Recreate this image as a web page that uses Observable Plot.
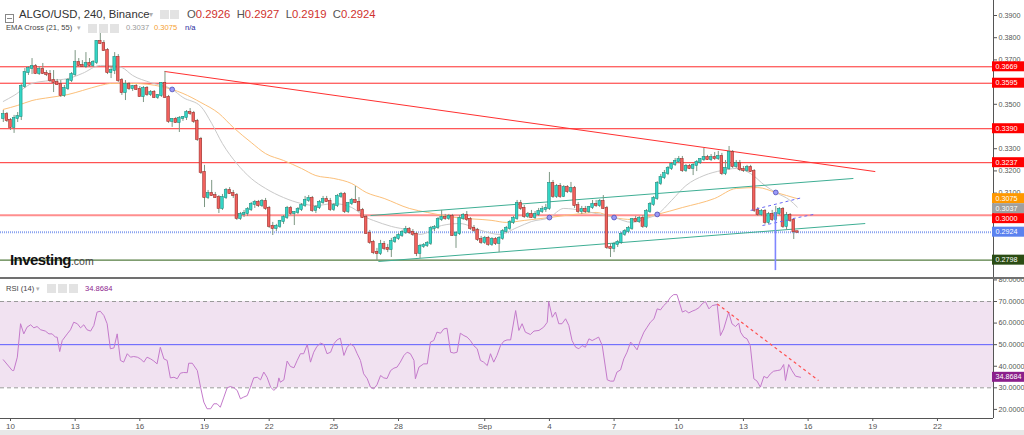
<!DOCTYPE html>
<html><head><meta charset="utf-8">
<script src="https://cdn.jsdelivr.net/npm/d3@7"></script>
<script src="https://cdn.jsdelivr.net/npm/@observablehq/plot@0.6"></script>
<style>
html,body{margin:0;padding:0;background:#fff}
#wrap{position:relative;width:1024px;height:435px;overflow:hidden;font-family:"Liberation Sans",Arial,Helvetica,sans-serif}
#price,#rsi{position:absolute;left:0}
#price{top:0;height:277px}
#rsi{top:279px;height:156px}
#price svg,#rsi svg{display:block;overflow:hidden}
.sep{position:absolute;left:0;top:277px;width:1024px;height:2px;background:#707070}
.band{position:absolute;left:0;top:430px;width:1024px;height:5px;background:#e8e8e8}
.lg{position:absolute;white-space:nowrap;line-height:1}
.ic{position:absolute;width:9px;height:9px;background:#e3e3e3}
</style></head><body>
<div id="wrap">
  <div id="price"></div>
  <div class="sep"></div>
  <div id="rsi"></div>
  <div class="band"></div>
</div>
<script>
// ---------- DATA ----------
const symbolTitle = "ALGO/USD, 240, Binance";
const emaTitle = "EMA Cross (21, 55)";
const rsiTitle = "RSI (14)";

// 4h candles, index 0 = Aug 9 16:00 (UTC)
const candleOpen = [
.3436,.3454,.3427,.3396,.3436,.3445,.3580,.3643,.3661,.3670,
.3639,.3657,.3639,.3634,.3607,.3598,.3589,.3540,.3571,.3607,
.3634,.3688,.3675,.3670,.3684,.3675,.3688,.3783,.3774,.3742,
.3643,.3652,.3711,.3607,.3553,.3589,.3571,.3580,.3567,.3535,
.3571,.3544,.3553,.3531,.3540,.3594,.3531,.3423,.3432,.3418,
.3436,.3441,.3463,.3459,.3423,.3342,.3193,.3080,.3098,.3089,
.3080,.3031,.3080,.3112,.3098,.3089,.2986,.3004,.3008,.3026,
.3049,.3058,.3044,.3062,.3031,.2950,.2941,.2950,.2972,.2990,
.3031,.3008,.3013,.3026,.3044,.3067,.3076,.3022,.3035,.3058,
.3071,.3062,.3026,.3044,.3085,.3094,.3017,.3053,.3067,.3058,
.3022,.2990,.2918,.2878,.2832,.2828,.2869,.2851,.2846,.2882,
.2896,.2909,.2923,.2936,.2923,.2914,.2828,.2860,.2864,.2873,
.2941,.2945,.2981,.2990,.2986,.2995,.2909,.2918,.2986,.2999,
.2981,.2941,.2932,.2891,.2878,.2896,.2869,.2891,.2873,.2896,
.2927,.2941,.2968,.2986,.3053,.3031,.2995,.3004,.2990,.3004,
.3017,.3026,.3031,.3143,.3085,.3130,.3085,.3125,.3107,.3121,
.3044,.3017,.3026,.3017,.3035,.3049,.3044,.3062,.3031,.2855,
.2851,.2869,.2878,.2914,.2927,.2941,.2981,.2972,.2986,.2950,
.3017,.3049,.3076,.3143,.3170,.3188,.3211,.3229,.3242,.3251,
.3202,.3220,.3211,.3225,.3238,.3251,.3260,.3251,.3260,.3256,
.3265,.3188,.3211,.3283,.3220,.3233,.3206,.3202,.3215,.3197,
.3022,.3004,.3017,.2968,.3004,.2981,.3008,.3026,.2950,.2999,
.2977,.2926];
const candleHigh = [
.3472,.3463,.3436,.3450,.3463,.3589,.3661,.3670,.3706,.3679,
.3670,.3684,.3652,.3652,.3652,.3612,.3607,.3585,.3616,.3643,
.3742,.3706,.3697,.3733,.3706,.3697,.3787,.3832,.3787,.3751,
.3670,.3733,.3724,.3616,.3607,.3598,.3585,.3589,.3580,.3580,
.3580,.3562,.3562,.3544,.3598,.3648,.3540,.3436,.3441,.3445,
.3445,.3472,.3481,.3468,.3432,.3351,.3225,.3112,.3157,.3103,
.3089,.3094,.3121,.3125,.3112,.3098,.3013,.3022,.3035,.3058,
.3067,.3067,.3071,.3076,.3040,.2968,.2959,.2977,.2999,.3040,
.3040,.3017,.3035,.3053,.3085,.3089,.3085,.3044,.3067,.3085,
.3085,.3076,.3053,.3094,.3103,.3103,.3058,.3076,.3130,.3080,
.3031,.2999,.2932,.2887,.2851,.2887,.2882,.2869,.2896,.2905,
.2918,.2932,.2950,.2945,.2936,.2923,.2869,.2873,.2882,.2950,
.2954,.2990,.3022,.3004,.3004,.3004,.2927,.2999,.3008,.3017,
.2990,.2954,.2941,.2905,.2905,.2905,.2900,.2900,.2905,.2936,
.2950,.2977,.2995,.3067,.3067,.3044,.3013,.3022,.3017,.3031,
.3040,.3049,.3193,.3157,.3139,.3143,.3134,.3134,.3148,.3130,
.3058,.3040,.3040,.3040,.3067,.3067,.3071,.3089,.3040,.2873,
.2878,.2887,.2923,.2936,.2950,.2986,.2995,.2995,.2999,.3026,
.3058,.3085,.3152,.3184,.3202,.3220,.3238,.3256,.3265,.3265,
.3229,.3229,.3233,.3247,.3256,.3301,.3270,.3274,.3283,.3288,
.3279,.3247,.3310,.3292,.3247,.3247,.3220,.3225,.3225,.3206,
.3035,.3026,.3026,.3013,.3022,.3040,.3035,.3035,.3013,.3008,
.2986,.2927];
const candleLow = [
.3418,.3418,.3382,.3369,.3418,.3427,.3571,.3630,.3634,.3634,
.3630,.3634,.3625,.3598,.3553,.3585,.3531,.3531,.3562,.3598,
.3625,.3670,.3666,.3661,.3666,.3666,.3679,.3769,.3738,.3634,
.3616,.3634,.3598,.3540,.3517,.3562,.3558,.3562,.3531,.3508,
.3535,.3535,.3526,.3522,.3531,.3526,.3414,.3396,.3414,.3373,
.3423,.3427,.3450,.3414,.3333,.3184,.3035,.3071,.3085,.3076,
.3008,.3022,.3071,.3094,.3076,.2977,.2977,.2990,.2995,.3017,
.3031,.3035,.3035,.3022,.2941,.2909,.2927,.2941,.2959,.2981,
.2999,.2954,.3004,.3017,.3035,.3058,.3013,.3008,.3026,.3049,
.3058,.3017,.3017,.3035,.3076,.3008,.3008,.3044,.3053,.3013,
.2986,.2914,.2869,.2823,.2796,.2819,.2841,.2832,.2810,.2873,
.2887,.2900,.2914,.2914,.2905,.2814,.2805,.2851,.2855,.2864,
.2927,.2936,.2972,.2977,.2977,.2905,.2851,.2909,.2977,.2972,
.2932,.2923,.2882,.2869,.2869,.2860,.2860,.2864,.2832,.2887,
.2918,.2932,.2959,.2977,.3022,.2986,.2986,.2986,.2981,.2995,
.3008,.3013,.3022,.3076,.3076,.3076,.3080,.3098,.3098,.3031,
.3008,.3004,.3008,.3008,.3026,.3035,.3035,.3026,.2846,.2810,
.2832,.2855,.2869,.2905,.2918,.2932,.2968,.2963,.2941,.2941,
.3008,.3040,.3067,.3134,.3161,.3179,.3202,.3220,.3233,.3193,
.3193,.3206,.3179,.3197,.3229,.3242,.3247,.3242,.3247,.3247,
.3179,.3179,.3202,.3211,.3211,.3197,.3193,.3193,.3193,.3013,
.2995,.2995,.2959,.2959,.2972,.2972,.2999,.2941,.2932,.2968,
.2891,.2919];
const candleClose = [
.3454,.3427,.3396,.3436,.3445,.3580,.3643,.3661,.3670,.3639,
.3657,.3639,.3634,.3607,.3598,.3589,.3540,.3571,.3607,.3634,
.3688,.3675,.3670,.3684,.3675,.3688,.3783,.3774,.3742,.3643,
.3652,.3711,.3607,.3553,.3589,.3571,.3580,.3567,.3535,.3571,
.3544,.3553,.3531,.3540,.3594,.3531,.3423,.3432,.3418,.3436,
.3441,.3463,.3459,.3423,.3342,.3193,.3080,.3098,.3089,.3080,
.3031,.3080,.3112,.3098,.3089,.2986,.3004,.3008,.3026,.3049,
.3058,.3044,.3062,.3031,.2950,.2941,.2950,.2972,.2990,.3031,
.3008,.3013,.3026,.3044,.3067,.3076,.3022,.3035,.3058,.3071,
.3062,.3026,.3044,.3085,.3094,.3017,.3053,.3067,.3058,.3022,
.2990,.2918,.2878,.2832,.2828,.2869,.2851,.2846,.2882,.2896,
.2909,.2923,.2936,.2923,.2914,.2828,.2860,.2864,.2873,.2941,
.2945,.2981,.2990,.2986,.2995,.2909,.2918,.2986,.2999,.2981,
.2941,.2932,.2891,.2878,.2896,.2869,.2891,.2873,.2896,.2927,
.2941,.2968,.2986,.3053,.3031,.2995,.3004,.2990,.3004,.3017,
.3026,.3031,.3143,.3085,.3130,.3085,.3125,.3107,.3121,.3044,
.3017,.3026,.3017,.3035,.3049,.3044,.3062,.3031,.2855,.2851,
.2869,.2878,.2914,.2927,.2941,.2981,.2972,.2986,.2950,.3017,
.3049,.3076,.3143,.3170,.3188,.3211,.3229,.3242,.3251,.3202,
.3220,.3211,.3225,.3238,.3251,.3260,.3251,.3260,.3256,.3265,
.3188,.3211,.3283,.3220,.3233,.3206,.3202,.3215,.3197,.3022,
.3004,.3017,.2968,.3004,.2981,.3008,.3026,.2950,.2999,.2977,
.2926,.2924];

// EMA 21 (grey) and EMA 55 (orange), read at candle indices
const ema21Idx = [0,3,8,13,18,22,27,30,33,36,41,47,50,55,58,61,65,69,73,78,83,87,92,97,101,103,108,113,116,122,127,133,138,143,147,152,156,161,165,170,175,179,182,186,190,195,200,204,208,212,215,219,221];
const ema21Val = [.3513,.3540,.3594,.3607,.3616,.3639,.3675,.3675,.3666,.3630,.3598,.3567,.3531,.3490,.3414,.3323,.3233,.3166,.3121,.3080,.3053,.3044,.3053,.3035,.2990,.2977,.2950,.2932,.2914,.2954,.2963,.2932,.2914,.2945,.2972,.2990,.3031,.3022,.3008,.2990,.2968,.2986,.3004,.3067,.3134,.3179,.3202,.3211,.3188,.3134,.3103,.3067,.3037];
const ema55Idx = [0,4,8,13,18,22,27,30,36,44,47,50,55,60,64,69,73,78,83,87,92,97,101,106,113,118,126,136,140,145,152,161,165,170,175,182,189,198,204,210,215,221];
const ema55Val = [.3477,.3495,.3517,.3531,.3544,.3562,.3585,.3594,.3594,.3580,.3567,.3549,.3508,.3459,.3396,.3328,.3278,.3247,.3211,.3179,.3166,.3143,.3103,.3076,.3031,.3013,.2990,.2977,.2968,.2977,.2990,.3008,.3013,.2990,.2981,.3004,.3035,.3076,.3121,.3125,.3103,.3075];
const crossIdx = [47,152,170,182,215];
const crossVal = [.3567,.2990,.2990,.3004,.3103];

// Horizontal levels and drawings
const resistanceLevels = [0.3669, 0.3595, 0.3390, 0.3237];
const pivotLevel = 0.3000;
const supportLevel = 0.2798;
const trendIdx = [44.9, 242.7],   trendPrice = [0.3648, 0.3197];
const chanUpIdx = [102.2, 236.6], chanUpPrice = [0.2999, 0.3166];
const chanLoIdx = [104.4, 239.9], chanLoPrice = [0.2792, 0.2963];
const flagIdx1 = [208.0, 222.4],  flagPrice1 = [0.3022, 0.3080];
const flagIdx2 = [211.3, 218.5],  flagPrice2 = [0.2954, 0.2979];
const flagIdx3 = [219.7, 226.1],  flagPrice3 = [0.2985, 0.3006];
const markIdx = 214.9, markPrice = [0.3013, 0.2751];

// RSI(14)
const rsiPos = [0,2.5,2.9,3.9,4.8,5.7,6.6,7.6,8.5,9.4,10.4,11.7,12.7,13.6,14.5,15.0,15.7,16.4,17.8,18.7,19.6,20.6,21.5,22.4,23.3,24.3,25.2,26.1,27.0,28.0,28.9,29.8,30.8,31.7,32.6,33.5,34.5,35.4,36.3,37.3,38.2,39.1,40.0,41.0,41.9,42.8,43.7,44.7,45.6,46.5,47.5,48.4,49.3,50.2,51.2,51.6,52.6,54.0,54.9,55.8,56.7,57.7,58.6,59.5,60.4,61.4,62.3,63.2,64.2,65.1,66.0,66.9,67.9,68.8,69.7,70.7,71.6,72.5,73.4,74.4,75.3,76.2,76.7,77.1,78.1,79.0,79.9,80.9,81.8,82.7,83.6,84.6,85.5,86.4,87.3,88.3,89.2,90.1,91.1,92.0,92.9,93.8,94.8,95.7,96.6,97.6,98.5,99.4,100.3,101.3,102.2,103.1,104.0,105.0,105.9,106.8,107.8,108.7,109.6,110.5,111.5,112.4,113.3,114.3,114.7,115.7,117.0,118.0,118.9,119.8,120.7,121.7,122.6,123.5,124.5,125.4,126.3,127.2,128.2,129.1,130.0,130.9,131.9,132.8,133.7,134.7,135.6,136.5,137.4,138.4,
139.3,140.2,141.2,142.6,143.5,144.4,145.3,146.7,147.7,149.1,150.4,151.4,151.8,152.8,153.7,154.6,155.5,156.5,157.4,158.3,159.3,160.2,161.1,162.0,163.0,163.9,164.8,165.7,166.7,168.1,169.0,169.9,170.8,171.8,172.7,173.6,174.6,175.5,176.4,177.3,178.3,179.2,180.1,181.1,182.0,182.9,183.8,184.8,185.7,186.6,187.5,189.0,189.9,190.8,191.7,192.6,193.6,194.5,195.4,196.4,197.3,198.7,199.6,200.5,201.9,202.8,203.8,204.7,205.2,206.1,207.0,207.9,208.9,209.8,210.7,211.7,212.6,213.5,214.4,215.4,216.3,217.2,217.7,218.6,219.5,220.5,221.9];
const rsiVal = [43.0,38.0,38.0,44.2,59.7,55.0,58.1,59.2,57.8,58.4,56.9,56.3,55.0,55.0,53.5,53.5,46.8,51.9,55.0,56.9,60.4,59.7,57.8,59.2,56.9,56.3,58.9,65.1,65.5,63.5,59.7,48.1,48.5,55.0,42.7,41.9,45.8,44.2,44.5,44.2,43.4,41.9,44.2,43.4,42.4,41.1,48.8,43.4,42.7,34.6,34.9,34.2,36.8,37.1,37.0,41.4,41.4,38.0,30.3,23.4,20.3,20.3,22.6,22.6,21.0,25.7,30.0,30.6,30.0,28.8,24.9,25.7,26.4,30.3,34.6,34.9,33.7,37.3,34.9,30.3,28.8,30.3,34.6,32.6,33.7,42.4,39.9,39.3,42.7,45.8,45.8,50.1,41.9,46.5,49.2,50.7,50.1,45.8,46.5,50.4,52.2,53.0,45.0,48.8,50.4,49.2,45.8,42.7,36.5,34.2,30.3,29.5,31.4,35.7,34.6,34.3,38.0,39.1,39.6,41.9,45.0,46.5,45.8,42.7,34.2,39.6,41.1,41.1,51.2,51.9,55.8,55.3,57.3,57.6,46.5,46.1,46.5,55.3,54.2,53.5,51.9,49.6,48.1,42.7,41.9,40.3,45.8,41.9,45.0,49.6,
51.6,52.2,52.2,65.8,56.6,59.7,55.8,54.7,56.3,56.6,58.1,60.4,70.0,62.7,65.1,59.7,59.7,62.0,58.9,51.9,48.8,48.1,49.6,48.8,52.7,51.9,52.7,53.5,49.6,33.7,33.1,33.1,37.3,38.3,43.4,46.5,51.2,49.6,47.6,51.9,55.8,58.1,60.4,62.0,66.6,66.1,68.1,69.7,72.0,73.2,73.2,65.1,65.8,64.7,65.5,66.1,67.1,68.9,70.0,66.6,68.1,68.6,54.2,57.3,65.1,59.7,58.4,60.0,55.8,53.5,52.7,49.6,34.2,33.1,30.3,35.3,34.5,36.5,37.7,38.0,38.3,40.8,33.4,40.8,38.0,35.4,34.8684];
const rsiBand = [30, 70];
const rsiMid = 50;
const rsiTrendPos = [198.7, 226.9], rsiTrendVal = [68.9, 33.4];

// Axis ticks
const timeTickPos = [2,20,38,56,74,92,110,134,152,170,188,206,224,242,260];
const timeTickLabels = ["10","13","16","19","22","25","28","Sep","4","7","10","13","16","19","22"];
const priceTicks = [0.28,0.29,0.30,0.31,0.32,0.33,0.34,0.35,0.36,0.37,0.38,0.39];
const rsiTicks = [20,30,40,50,60,70,80];

// Price tags on the right axis
const tagValues = [0.3669,0.3595,0.3390,0.3237,0.3075,0.3037,0.3000,0.2924,0.2798];
const tagColors = ["#ff0000","#ff0000","#ff0000","#ff0000","#ff9800","#a0a0a0","#ff0000","#5b82ef","#2b4d14"];

// ---------- LAYOUT / STYLE ----------
const W = 1024, MR = 31;
const xDomain = [-0.78, 275.6];
const priceDomain = [0.27199, 0.39676];
const rsiDomain = [15.78, 80.2];
const PRICE_H = 277, RSI_H = 156, RSI_MB = 17;
const FONT = '"Liberation Sans", Arial, sans-serif';
const UP_FILL = "#33d6c6", UP_STROKE = "#1f8e80";
const DN_FILL = "#f2615d", DN_STROKE = "#9c2f2c";
const WICK = "#7d9783";

// ---------- BUILD ----------
const N = Math.min(candleOpen.length, candleHigh.length, candleLow.length, candleClose.length);
const candles = d3.range(N).map(i => ({i, o: candleOpen[i], h: candleHigh[i], l: candleLow[i], c: candleClose[i]}));
const ups = candles.filter(d => d.c >= d.o), downs = candles.filter(d => d.c < d.o);
const ema21 = ema21Idx.map((i, k) => ({i, v: ema21Val[k]}));
const ema55 = ema55Idx.map((i, k) => ({i, v: ema55Val[k]}));
const crosses = crossIdx.map((i, k) => ({i, v: crossVal[k]}));
const seg = (xs, ys) => [{x1: xs[0], x2: xs[1], y1: ys[0], y2: ys[1]}];
const rsiN = Math.min(rsiPos.length, rsiVal.length);
const rsi = d3.range(rsiN).map(k => ({p: rsiPos[k], v: rsiVal[k]}));

// stacked tag positions (the chart pushes overlapping tags down)
function stackTags(scale, values, colors) {
  const items = values.map((v, k) => ({v, c: colors[k], y: scale.apply(v)})).sort((a, b) => a.y - b.y);
  let prev = -1e9;
  for (const it of items) { if (it.y < prev + 10) it.y = prev + 10; prev = it.y; }
  return items;
}
const priceScale = Plot.scale({y: {domain: priceDomain, range: [PRICE_H, 0]}});
const rsiScale = Plot.scale({y: {domain: rsiDomain, range: [RSI_H - RSI_MB, 0]}});
const priceTags = stackTags(priceScale, tagValues, tagColors);
const rsiTags = stackTags(rsiScale, [rsiVal[rsiN - 1]], ["#8b1f8b"]);
// tick labels fully hidden behind a tag are not drawn
const visibleTicks = (ticks, scale, tags) => ticks.filter(t => tags.every(g => Math.abs(scale.apply(t) - g.y) > 5.5));

const body = (data, fill, stroke) => Plot.rect(data, {
  x1: d => d.i - 0.36, x2: d => d.i + 0.36,
  y1: d => Math.min(d.o, d.c), y2: d => Math.max(d.o, d.c),
  fill, stroke, strokeWidth: 0.6, insetTop: -0.5, insetBottom: -0.5
});
const linkMark = (xs, ys, opts) => Plot.link(seg(xs, ys), {x1: "x1", x2: "x2", y1: "y1", y2: "y2", ...opts});

const priceFig = Plot.plot({
  width: W, height: PRICE_H, marginLeft: 0, marginRight: MR, marginTop: 0, marginBottom: 0,
  style: {fontFamily: FONT, fontSize: "7.2px", color: "#555", background: "transparent"},
  x: {domain: xDomain, axis: null},
  y: {domain: priceDomain, axis: "right", ticks: visibleTicks(priceTicks, priceScale, priceTags), tickFormat: d => d.toFixed(4), tickSize: 3, tickPadding: 2, label: null},
  marks: [
    Plot.ruleY(resistanceLevels, {stroke: "#ff2a2a", strokeWidth: 1}),
    Plot.ruleY([pivotLevel], {stroke: "#ff7a7a", strokeWidth: 2, strokeOpacity: 0.85}),
    Plot.ruleY([supportLevel], {stroke: "#557d40", strokeWidth: 1.2}),
    Plot.ruleY([candleClose[N - 1]], {stroke: "#8aa3f0", strokeWidth: 2, strokeDasharray: "1,1"}),
    Plot.line(ema55, {x: "i", y: "v", stroke: "#fcc07a", strokeWidth: 1, curve: "monotone-x"}),
    Plot.line(ema21, {x: "i", y: "v", stroke: "#c9c9c9", strokeWidth: 1, curve: "monotone-x"}),
    linkMark(trendIdx, trendPrice, {stroke: "#ff3030", strokeWidth: 1}),
    linkMark(chanUpIdx, chanUpPrice, {stroke: "#3fae94", strokeWidth: 1}),
    linkMark(chanLoIdx, chanLoPrice, {stroke: "#3fae94", strokeWidth: 1}),
    Plot.ruleX(candles, {x: "i", y1: "l", y2: "h", stroke: WICK, strokeWidth: 1}),
    body(ups, UP_FILL, UP_STROKE),
    body(downs, DN_FILL, DN_STROKE),
    linkMark(flagIdx1, flagPrice1, {stroke: "#6a6af5", strokeWidth: 1, strokeDasharray: "3,3"}),
    linkMark(flagIdx2, flagPrice2, {stroke: "#6a6af5", strokeWidth: 1, strokeDasharray: "3,3"}),
    linkMark(flagIdx3, flagPrice3, {stroke: "#6a6af5", strokeWidth: 1, strokeDasharray: "3,3"}),
    Plot.ruleX([markIdx], {y1: markPrice[0], y2: markPrice[1], stroke: "#7f86ff", strokeWidth: 1.6}),
    Plot.dot(crosses, {x: "i", y: "v", r: 2.4, fill: "#9a9af7", stroke: "#4a4ab8", strokeWidth: 0.8}),
    Plot.ruleX([xDomain[1]], {stroke: "#555", strokeWidth: 1})
  ]
});
document.getElementById("price").appendChild(priceFig);

const rsiFig = Plot.plot({
  width: W, height: RSI_H, marginLeft: 0, marginRight: MR, marginTop: 0, marginBottom: RSI_MB,
  style: {fontFamily: FONT, fontSize: "7.2px", color: "#555", background: "transparent"},
  x: {domain: xDomain, ticks: timeTickPos, tickFormat: d => timeTickLabels[timeTickPos.indexOf(d)], tickSize: 3, tickPadding: 2, label: null},
  y: {domain: rsiDomain, axis: "right", ticks: visibleTicks(rsiTicks, rsiScale, rsiTags), tickFormat: d => d.toFixed(4), tickSize: 3, tickPadding: 2, label: null},
  marks: [
    Plot.rect([rsiBand], {y1: d => d[0], y2: d => d[1], fill: "#f1e2f1"}),
    Plot.ruleY(rsiBand, {stroke: "#9a9a9a", strokeDasharray: "4,3"}),
    Plot.ruleY([rsiMid], {stroke: "#5c5cff", strokeWidth: 1}),
    Plot.line(rsi, {x: "p", y: "v", stroke: "#c47acb", strokeWidth: 1}),
    linkMark(rsiTrendPos, rsiTrendVal, {stroke: "#ff5050", strokeWidth: 1.2, strokeDasharray: "3,3"}),
    Plot.ruleX([xDomain[1]], {stroke: "#555", strokeWidth: 1}),
    Plot.ruleY([rsiDomain[0]], {stroke: "#555", strokeWidth: 1})
  ]
});
document.getElementById("rsi").appendChild(rsiFig);
d3.select(rsiFig).selectAll("text").filter(function () { return /^[0-9A-Za-z]{1,3}$/.test(this.textContent); })
  .style("font-size", "8px");

function drawTags(fig, items, fmt) {
  const xr = W - MR - 1;
  const g = d3.select(fig).append("g").attr("text-anchor", "start");
  for (const it of items) {
    g.append("rect").attr("x", xr).attr("y", it.y - 5).attr("width", W - xr).attr("height", 10).attr("fill", it.c);
    g.append("text").attr("x", xr + 3.5).attr("y", it.y + 2.6).attr("fill", "#fff").attr("text-anchor", "start")
      .style("font-size", "7.2px").style("font-family", FONT).text(fmt(it.v));
  }
}
drawTags(priceFig, priceTags, v => v.toFixed(4));
drawTags(rsiFig, rsiTags, v => v.toFixed(4));

// ---------- LEGENDS (HTML) ----------
const wrap = document.getElementById("wrap");
function el(html, style) {
  const d = document.createElement("div");
  d.className = "lg"; d.innerHTML = html; Object.assign(d.style, style); wrap.appendChild(d); return d;
}
function icon(left, top) { const d = document.createElement("div"); d.className = "ic"; d.style.left = left + "px"; d.style.top = top + "px"; wrap.appendChild(d); }
const last = candles[N - 1];
const red = "#d0312d";
// line 1
el('<span style="display:inline-block;width:7px;height:7px;border:1px solid #888;position:relative"><span style="position:absolute;left:1px;right:1px;top:3px;height:1px;background:#888"></span></span>', {left: "5px", top: "10px"});
el(symbolTitle, {left: "19px", top: "9px", fontSize: "11.3px", color: "#333"});
el("&#9662;", {left: "149px", top: "11px", fontSize: "8px", color: "#b0b0b0"});
icon(160, 10); icon(170, 10);
el(`<span style="color:#555">O</span><span style="color:${red}">${last.o.toFixed(4)}</span>&nbsp;&nbsp;<span style="color:#555">H</span><span style="color:${red}">${last.h.toFixed(4)}</span>&nbsp;&nbsp;<span style="color:#555">L</span><span style="color:${red}">${last.l.toFixed(4)}</span>&nbsp;&nbsp;<span style="color:#555">C</span><span style="color:${red}">${last.c.toFixed(4)}</span>`,
  {left: "187px", top: "9px", fontSize: "11.3px"});
// line 2
el(emaTitle, {left: "6px", top: "24px", fontSize: "7.6px", color: "#444"});
el("&#9662;", {left: "77px", top: "25px", fontSize: "6.5px", color: "#b0b0b0"});
icon(88, 24); icon(99, 24); icon(110, 24);
el(ema21Val[ema21Val.length - 1].toFixed(4), {left: "126px", top: "24px", fontSize: "7.6px", color: "#9a9a9a"});
el(ema55Val[ema55Val.length - 1].toFixed(4), {left: "154px", top: "24px", fontSize: "7.6px", color: "#f5a030"});
el("n/a", {left: "185px", top: "24px", fontSize: "7.6px", color: "#2a2a9c"});
// RSI legend
el(rsiTitle, {left: "6px", top: "285px", fontSize: "7.6px", color: "#444"});
el("&#9662;", {left: "36px", top: "286px", fontSize: "6.5px", color: "#b0b0b0"});
icon(47, 284); icon(58, 284); icon(69, 284);
el(rsiVal[rsiN - 1].toFixed(4), {left: "85px", top: "285px", fontSize: "7.6px", color: "#8e248e"});
// Investing.com watermark
el('<span style="font-weight:bold;font-size:15px;color:#111;letter-spacing:-0.55px">Investing</span><span style="font-size:10.5px;color:#444">.com</span>',
  {left: "10px", top: "252px"});
</script>
</body></html>
